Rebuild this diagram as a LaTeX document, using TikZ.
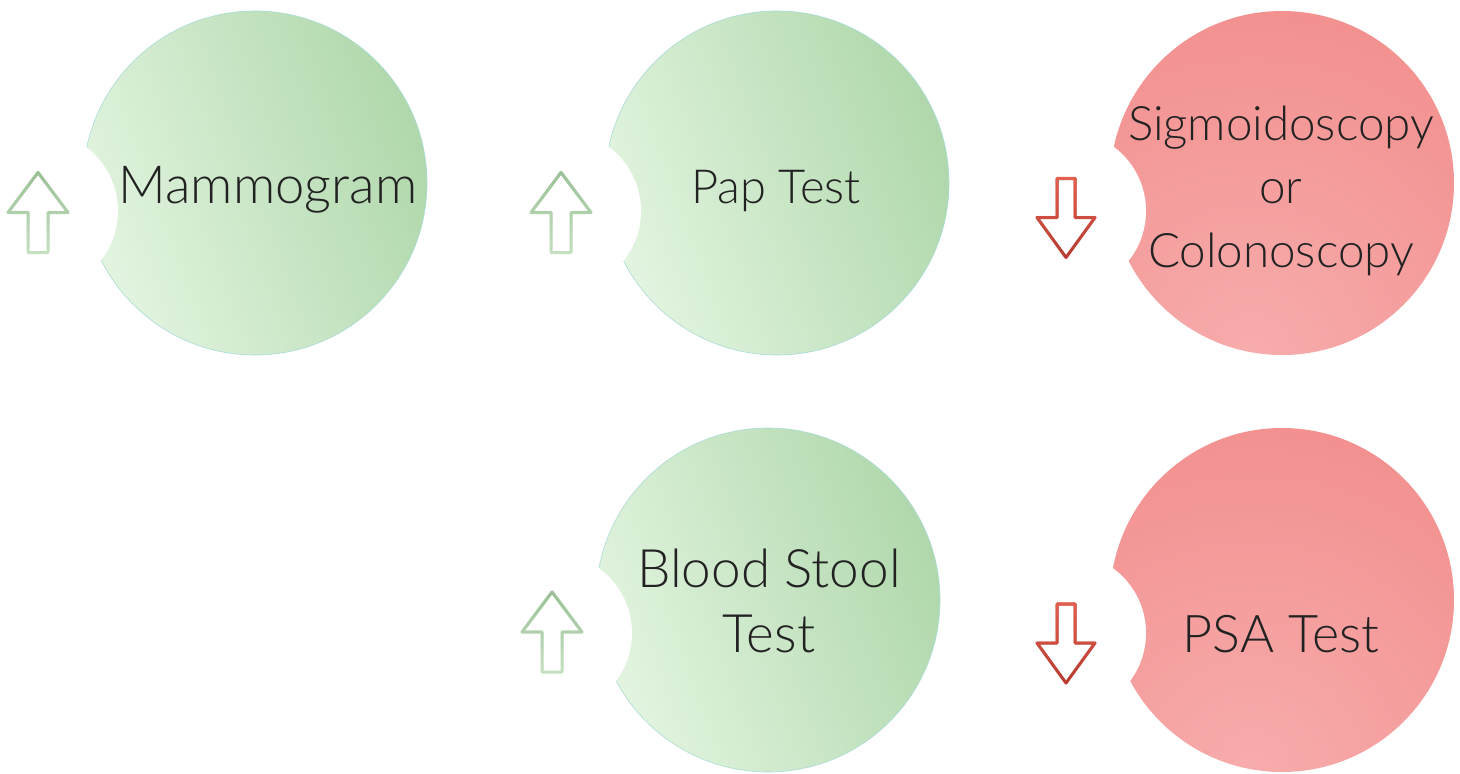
\documentclass[tikz,border=0pt]{standalone}
\usepackage{fontspec}
\setmainfont{Lato Light}
\usetikzlibrary{fadings}
\definecolor{txt}{HTML}{222222}
\definecolor{gdark}{HTML}{A3D09E}
\definecolor{glight}{HTML}{F0FCEE}
\definecolor{gedge}{HTML}{A9DCD6}
\definecolor{rdark}{HTML}{EF7E7C}
\definecolor{rlight}{HTML}{F7ACAC}
\definecolor{gatop}{HTML}{9BC197}
\definecolor{gabot}{HTML}{C6E0C2}
\definecolor{ratop}{HTML}{E4604F}
\definecolor{rabot}{HTML}{B63A30}
\tikzfading[name=fadetopdown, top color=transparent!0, bottom color=transparent!100]
\tikzset{
  lbl/.style={text=txt, inner sep=0pt, anchor=base},
  bite/.style={fill=white, draw=none},
  arrline/.style={line width=3pt, line join=round, line cap=round},
  uparr/.pic={
    \fill[white] (0,-40) -- (30,0) -- (10,0) -- (10,40) -- (-10,40) -- (-10,0) -- (-30,0) -- cycle;
    \draw[arrline, draw=gabot] (0,-40) -- (30,0) -- (10,0) -- (10,40) -- (-10,40) -- (-10,0) -- (-30,0) -- cycle;
    \draw[arrline, draw=gatop, path fading=fadetopdown] (0,-40) -- (30,0) -- (10,0) -- (10,40) -- (-10,40) -- (-10,0) -- (-30,0) -- cycle;
  },
  downarr/.pic={
    \fill[white] (0,40) -- (29,0) -- (9,0) -- (9,-39) -- (-9,-39) -- (-9,0) -- (-29,0) -- cycle;
    \draw[arrline, draw=rabot] (0,40) -- (29,0) -- (9,0) -- (9,-39) -- (-9,-39) -- (-9,0) -- (-29,0) -- cycle;
    \draw[arrline, draw=ratop, path fading=fadetopdown] (0,40) -- (29,0) -- (9,0) -- (9,-39) -- (-9,-39) -- (-9,0) -- (-29,0) -- cycle;
  }
}
\begin{document}
\begin{tikzpicture}[x=1pt,y=-1pt]
\useasboundingbox[fill=white] (0,0) rectangle (1460,774);
% green discs
\foreach \cx/\cy in {255/183, 777/183, 768/600}{
  \begin{scope}
    \clip (\cx,\cy) circle (172);
    \shade[top color=gdark, bottom color=glight, shading angle=-70] (\cx-260,\cy-260) rectangle (\cx+260,\cy+260);
  \end{scope}
  \draw[gedge, line width=0.6pt] (\cx,\cy) circle (172);
}
% red discs
\foreach \cx/\cy in {1282/183, 1282/600}{
  \begin{scope}
    \clip (\cx,\cy) circle (172);
    \shade[inner color=rlight, outer color=rdark] (\cx-30,\cy+170) circle (580);
  \end{scope}
}
% bites
\fill[bite] (38,211) circle (80);
\fill[bite] (561,211) circle (80);
\fill[bite] (1066,211) circle (80);
\fill[bite] (552,633) circle (80);
\fill[bite] (1066,633) circle (80);
% arrows
\pic at (38,212.5) {uparr};
\pic at (561,212.5) {uparr};
\pic at (552,632) {uparr};
\pic at (1066,217.5) {downarr};
\pic at (1066,643) {downarr};
% labels
\node[lbl, font=\fontsize{52.5}{60}\selectfont] (mam) at (268,203) {Mammogram};
\node[lbl, font=\fontsize{47}{56}\selectfont] (pap) at (776,203) {Pap Test};
\node[lbl, font=\fontsize{47.5}{56}\selectfont] (sig1) at (1281,140) {Sigmoidoscopy};
\node[lbl, font=\fontsize{47.5}{56}\selectfont] (sig2) at (1281,203) {or};
\node[lbl, font=\fontsize{47.5}{56}\selectfont] (sig3) at (1281,267) {Colonoscopy};
\node[lbl, font=\fontsize{53}{60}\selectfont] (bst1) at (769,587) {Blood Stool};
\node[lbl, font=\fontsize{53}{60}\selectfont] (bst2) at (769,652) {Test};
\node[lbl, font=\fontsize{52}{60}\selectfont] (psa) at (1281,652) {PSA Test};
\end{tikzpicture}
\end{document}
